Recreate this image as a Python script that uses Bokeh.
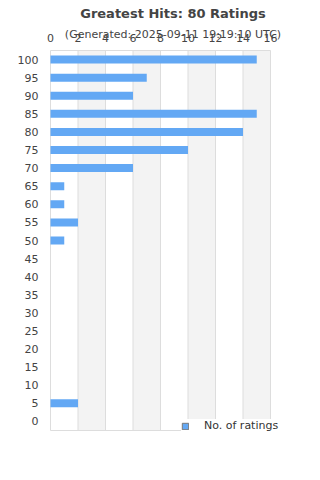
from bokeh.plotting import figure
from bokeh.models import Range1d, Legend, LegendItem, FixedTicker
from bokeh.embed import file_html
from bokeh.resources import INLINE

categories = [0, 5, 10, 15, 20, 25, 30, 35, 40, 45, 50,
              55, 60, 65, 70, 75, 80, 85, 90, 95, 100]
counts = [0, 2, 0, 0, 0, 0, 0, 0, 0, 0, 1,
          2, 1, 1, 6, 10, 14, 15, 6, 7, 15]
x_ticks = [0, 2, 4, 6, 8, 10, 12, 14, 16]
title_text = "Greatest Hits: 80 Ratings"
subtitle_text = "(Generated: 2025-09-11 19:19:10 UTC)"
series_name = "No. of ratings"

FONT = "DejaVu Sans"
BAR = "#63a8f4"
GRID = "#dddddd"
BAND = "#f3f3f3"

# extents of the drawn plot box
x_lo, x_hi = x_ticks[0], x_ticks[-1]
step = categories[1] - categories[0]
y_lo, y_hi = categories[0] - step / 2, categories[-1] + step / 2

# frame slightly larger than the box so the legend is not clipped
px_x = 220 / (x_hi - x_lo)
px_y = 380 / (y_hi - y_lo)
xr = Range1d(x_lo - 5 / px_x, x_hi + 30 / px_x)
yr = Range1d(y_lo - 4 / px_y, y_hi + 4 / px_y)

p = figure(width=320, height=480, x_range=xr, y_range=yr,
           output_backend="svg", toolbar_location=None, x_axis_location="above",
           min_border_left=45, min_border_right=20, min_border_top=46,
           min_border_bottom=46, title=title_text)
p.background_fill_color = "white"
p.border_fill_color = "white"
p.outline_line_color = None

p.title.align = "center"
p.title.text_font = FONT
p.title.text_font_size = "13px"
p.title.text_font_style = "bold"
p.title.text_color = "#444444"
p.title.standoff = 7

# alternating bands between every other pair of ticks
band_left = x_ticks[1:-1:2]
band_right = x_ticks[2::2]
p.quad(left=band_left, right=band_right, bottom=y_lo, top=y_hi,
       fill_color=BAND, line_color=None)
# vertical grid lines
p.segment(x0=x_ticks, x1=x_ticks, y0=y_lo, y1=y_hi, line_color=GRID, line_width=1)
# top and bottom borders
p.segment(x0=[x_lo, x_lo], x1=[x_hi, x_hi], y0=[y_lo, y_hi], y1=[y_lo, y_hi],
          line_color=GRID, line_width=1)

p.hbar(y=categories, right=counts, height=8 / px_y, left=0,
       fill_color=BAR, line_color=None)
key = p.quad(left=[x_lo], right=[x_lo], top=[y_lo], bottom=[y_lo],
             fill_color=BAR, line_color="#777777", line_width=1)

p.xaxis.ticker = FixedTicker(ticks=x_ticks)
p.xaxis.axis_line_color = None
p.xaxis.major_tick_line_color = None
p.xaxis.minor_tick_line_color = None
p.xaxis.major_tick_out = 0
p.xaxis.major_tick_in = 0
p.xaxis.major_label_standoff = 5
p.xaxis.major_label_text_font = FONT
p.xaxis.major_label_text_font_size = "11px"
p.xaxis.major_label_text_color = "#444444"
p.xaxis.axis_label = subtitle_text
p.xaxis.axis_label_text_font = FONT
p.xaxis.axis_label_text_font_size = "11px"
p.xaxis.axis_label_text_font_style = "normal"
p.xaxis.axis_label_text_color = "#444444"
p.xaxis.axis_label_standoff = -10

p.yaxis.ticker = FixedTicker(ticks=categories)
p.yaxis.axis_line_color = None
p.yaxis.major_tick_line_color = None
p.yaxis.minor_tick_line_color = None
p.yaxis.major_tick_out = 0
p.yaxis.major_tick_in = 0
p.yaxis.major_label_standoff = 7
p.yaxis.major_label_text_font = FONT
p.yaxis.major_label_text_font_size = "11px"
p.yaxis.major_label_text_color = "#444444"

p.xgrid.visible = False
p.ygrid.visible = False

legend = Legend(items=[LegendItem(label=series_name, renderers=[key])],
                location=(136, 2), orientation="horizontal",
                background_fill_color="white", background_fill_alpha=1.0,
                border_line_color=None, padding=5, margin=0,
                glyph_width=8, glyph_height=8, label_standoff=15,
                label_text_font=FONT, label_text_font_size="11px",
                label_text_color="#333333", label_height=13)
p.add_layout(legend, "center")

open("out.html", "w").write(file_html(p, INLINE))
